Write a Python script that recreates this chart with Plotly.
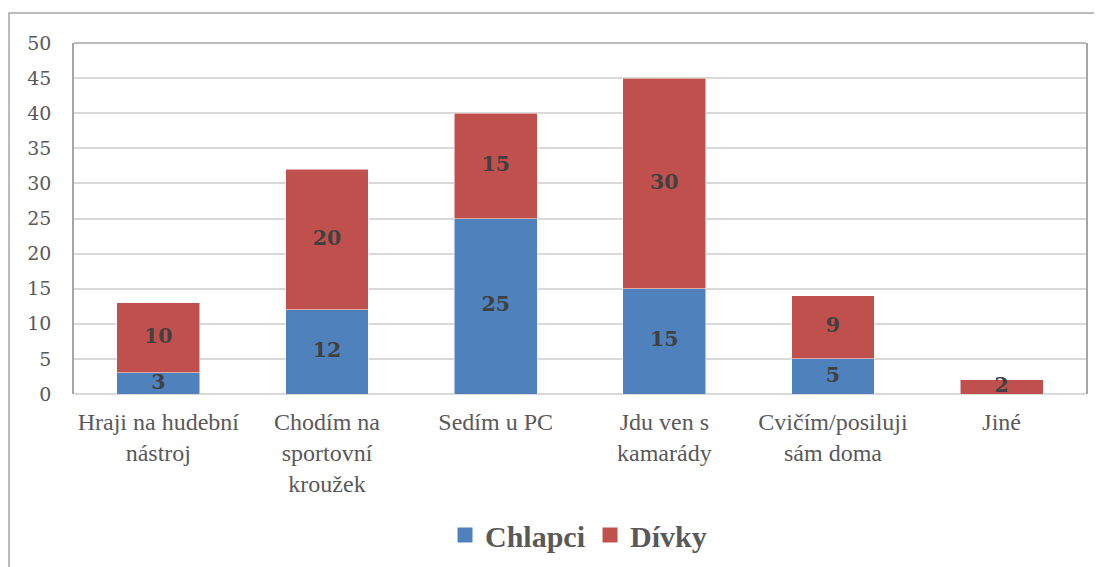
import plotly.graph_objects as go

categories = ["Hraji na hudební<br>nástroj", "Chodím na<br>sportovní<br>kroužek", "Sedím u PC",
              "Jdu ven s<br>kamarády", "Cvičím/posiluji<br>sám doma", "Jiné"]
chlapci = [3, 12, 25, 15, 5, 0]
divky = [10, 20, 15, 30, 9, 2]
y_ticks = [0, 5, 10, 15, 20, 25, 30, 35, 40, 45, 50]

BLUE = "#4F81BD"
RED = "#C0504D"
SERIF_TNR = "Liberation Serif"
SERIF_C = "DejaVu Serif"

fig = go.Figure()
fig.add_trace(go.Bar(x=categories, y=chlapci, name="Chlapci", marker=dict(color=BLUE, line=dict(color="white", width=0.5)),
                     showlegend=False, hoverinfo="skip"))
fig.add_trace(go.Bar(x=categories, y=divky, name="Dívky", marker=dict(color=RED, line=dict(color="white", width=0.5)),
                     showlegend=False, hoverinfo="skip"))

# data labels centered in segments
lab_x, lab_y, lab_t = [], [], []
for c, b, r in zip(categories, chlapci, divky):
    if b:
        lab_x.append(c); lab_y.append(b / 2); lab_t.append(str(b))
    if r:
        lab_x.append(c); lab_y.append(b + r / 2); lab_t.append(str(r))
fig.add_trace(go.Scatter(x=lab_x, y=lab_y, text=lab_t, mode="text", showlegend=False, hoverinfo="skip",
                         textfont=dict(family=SERIF_C, size=20.5, color="#404040", weight="bold")))

# legend entries
for name, col in [("Chlapci", BLUE), ("Dívky", RED)]:
    fig.add_trace(go.Scatter(x=[None], y=[None], mode="markers", name=name,
                             marker=dict(symbol="square", size=15, color=col)))

OFF = 8  # page body margin
W, H = 1102 - OFF, 567 - OFF
L, R, T, B = 74 - OFF, 1102 - 1086, 43 - OFF, 567 - 394
pw, ph = W - L - R, H - T - B

def px(x):  # page pixel -> paper x
    return (x - OFF - L) / pw

def py(y):  # page pixel -> paper y
    return (H - B - (y - OFF)) / ph

fig.update_layout(
    width=W, height=H,
    margin=dict(l=L, r=R, t=T, b=B, autoexpand=False),
    paper_bgcolor="white", plot_bgcolor="white",
    barmode="stack", bargap=0.508,
    showlegend=True,
    legend=dict(orientation="h", x=px(445), xanchor="left", y=py(535), yanchor="middle",
                traceorder="normal",
                font=dict(family=SERIF_TNR, size=30, color="#595959", weight="bold"),
                itemwidth=30, tracegroupgap=0, bgcolor="rgba(0,0,0,0)"),
    xaxis=dict(type="category", showgrid=False, showline=False, ticks="", zeroline=False,
               automargin=False,
               tickfont=dict(family=SERIF_TNR, size=24, color="#595959"), ticklabelstandoff=11,
               fixedrange=True),
    yaxis=dict(range=[0, 50], tickvals=y_ticks, showgrid=True, gridcolor="#D9D9D9", gridwidth=1.5,
               automargin=False,
               zeroline=True, zerolinecolor="#D9D9D9", zerolinewidth=1.5,
               showline=True, mirror=True, linecolor="#A6A6A6", linewidth=1.5, ticks="",
               tickfont=dict(family=SERIF_C, size=19, color="#595959"), ticklabelstandoff=17),
    shapes=[
        dict(type="line", xref="paper", yref="paper", x0=0, x1=1, y0=1, y1=1,
             line=dict(color="#A6A6A6", width=1.5)),
        dict(type="rect", xref="paper", yref="paper", x0=px(9), x1=px(1130), y0=py(13), y1=py(620),
             line=dict(color="#A6A6A6", width=1.5), fillcolor="rgba(0,0,0,0)", layer="below"),
    ],
)

fig.write_html("out.html")
